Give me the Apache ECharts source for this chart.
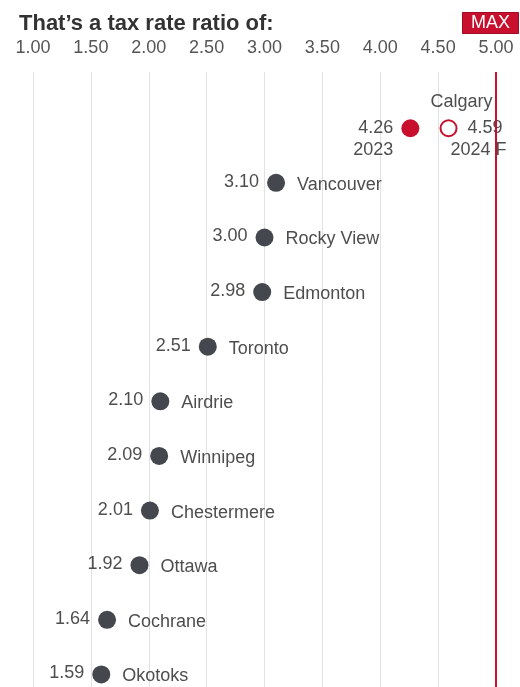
<!DOCTYPE html>
<html>
<head>
<meta charset="utf-8">
<script src="https://cdn.jsdelivr.net/npm/echarts@6/dist/echarts.min.js"></script>
<style>
  html, body { margin: 0; padding: 0; background: #fff; }
  #main { width: 520px; height: 687px; }
</style>
</head>
<body>
<div id="main"></div>
<script>
// data
const cities = ['Vancouver', 'Rocky View', 'Edmonton', 'Toronto', 'Airdrie', 'Winnipeg', 'Chestermere', 'Ottawa', 'Cochrane', 'Okotoks'];
const ratios = [3.10, 3.00, 2.98, 2.51, 2.10, 2.09, 2.01, 1.92, 1.64, 1.59];
const calgaryName = 'Calgary';
const calgary2023 = 4.26;
const calgary2024F = 4.59;
const calgaryYears = ['2023', '2024 F'];
const maxRatio = 5;

const RED = '#c8102e';
const DOT = '#44474e';
const TXT = '#4e4e4e';
const FONT = '"Liberation Sans", Arial, sans-serif';

// calgary sits on row 0, the other cities on rows 1..n
const cityData = cities.map((c, i) => [ratios[i], i + 1, c]);

const lbl = { fontSize: 18, color: TXT, fontFamily: FONT };
const hidden = { color: 'transparent', opacity: 1 };

const chart = echarts.init(document.getElementById('main'));

chart.setOption({
  animation: false,
  textStyle: { fontFamily: FONT },
  title: [
    {
      text: 'That\u2019s a tax rate ratio of:',
      left: 14, top: 8,
      textStyle: { fontSize: 22, fontWeight: 'bold', color: '#333', fontFamily: FONT }
    },
    {
      text: 'MAX',
      right: 1, top: 12,
      backgroundColor: RED,
      borderColor: '#9e0b22', borderWidth: 1,
      padding: [2, 9],
      textStyle: { fontSize: 18, fontWeight: 'normal', color: '#fff', fontFamily: FONT }
    }
  ],
  grid: { left: 33, right: 24, top: 72, bottom: 0 },
  xAxis: {
    type: 'value',
    position: 'top',
    min: 1, max: maxRatio, interval: 0.5,
    axisLine: { show: false },
    axisTick: { show: false },
    axisLabel: Object.assign({ margin: 15, formatter: v => v.toFixed(2) }, lbl, { color: '#555' }),
    splitLine: { show: true, lineStyle: { color: '#e2e2e2', width: 1 } }
  },
  yAxis: {
    type: 'value',
    inverse: true,
    min: -1.03, max: 10.23,
    show: false
  },
  series: [
    {
      // dark dots with value on the left
      type: 'scatter',
      data: cityData,
      symbolSize: 18,
      itemStyle: { color: DOT, opacity: 1 },
      label: Object.assign({
        show: true, position: 'left', distance: 8,
        offset: [0, -1],
        formatter: p => p.value[0].toFixed(2)
      }, lbl),
      markLine: {
        silent: true,
        symbol: 'none',
        label: { show: false },
        lineStyle: { color: RED, width: 2, type: 'solid', opacity: 1 },
        data: [{ xAxis: maxRatio }]
      }
    },
    {
      // city names on the right
      type: 'scatter',
      data: cityData,
      symbolSize: 18,
      itemStyle: hidden,
      label: Object.assign({
        show: true, position: 'right', distance: 12,
        offset: [0, 2],
        formatter: p => p.value[2]
      }, lbl)
    },
    {
      // calgary 2023
      type: 'scatter',
      data: [[calgary2023, 0]],
      symbolSize: 18,
      itemStyle: { color: RED, opacity: 1 },
      label: Object.assign({
        show: true, position: 'left', distance: 8,
        lineHeight: 22, align: 'right', offset: [0, 11],
        formatter: calgary2023.toFixed(2) + '\n' + calgaryYears[0]
      }, lbl)
    },
    {
      // calgary 2024 forecast
      type: 'scatter',
      data: [[calgary2024F, 0]],
      symbolSize: 16,
      itemStyle: { color: '#fff', borderColor: RED, borderWidth: 2, opacity: 1 },
      label: Object.assign({
        show: true, position: 'right', distance: 10,
        formatter: calgary2024F.toFixed(2)
      }, lbl)
    },
    {
      type: 'scatter',
      data: [[calgary2024F, 0]],
      symbolSize: 1,
      itemStyle: hidden,
      label: Object.assign({
        show: true, position: 'inside', offset: [13, -26],
        formatter: calgaryName
      }, lbl)
    },
    {
      type: 'scatter',
      data: [[calgary2024F, 0]],
      symbolSize: 1,
      itemStyle: hidden,
      label: Object.assign({
        show: true, position: 'inside', offset: [30, 22],
        formatter: calgaryYears[1]
      }, lbl)
    }
  ]
});
</script>
</body>
</html>
